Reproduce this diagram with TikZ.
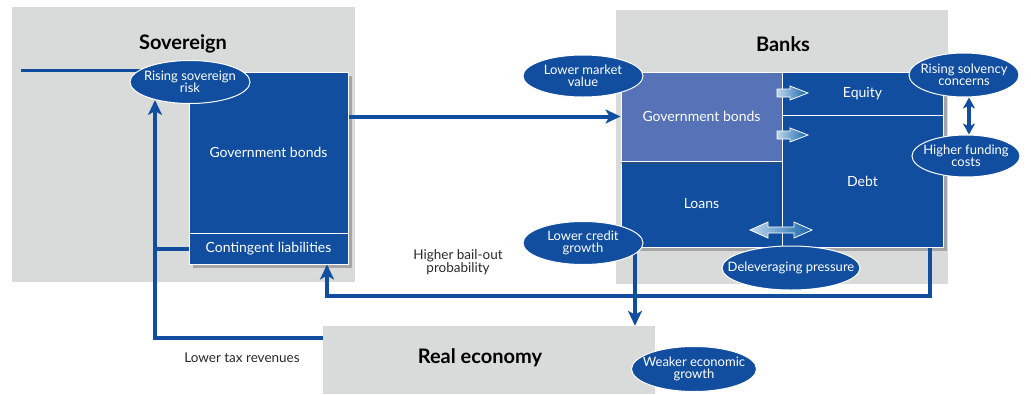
\documentclass[tikz,border=0pt]{standalone}
\usepackage{fontspec}
\setmainfont{Lato}
\usetikzlibrary{shapes.geometric,arrows.meta,shadows,calc}
\definecolor{bl}{RGB}{17,78,160}
\definecolor{lbl}{RGB}{86,115,183}
\definecolor{gr}{RGB}{217,218,218}
\definecolor{txt}{RGB}{40,40,40}
\definecolor{hA}{RGB}{190,215,235}
\definecolor{hB}{RGB}{20,100,170}
\begin{document}
\begin{tikzpicture}[x=1pt,y=-1pt,
  graybox/.style={fill=gr, draw=none, inner sep=0pt},
  title/.style={font=\fontsize{20}{22}\selectfont\bfseries, text=black},
  cell/.style={fill=bl, draw=white, line width=1pt, inner sep=0pt, text=white, font=\fontsize{14}{16}\selectfont},
  oval/.style={ellipse, fill=bl, draw=white, line width=1pt, inner ysep=0pt, inner xsep=-9pt, text=white, align=center, font=\fontsize{13}{14}\selectfont},
  lbl/.style={text=txt, align=center, font=\fontsize{13.5}{15}\selectfont},
  conn/.style={draw=bl, line width=4pt},
  arr/.style={-{Stealth[length=15pt,width=14pt,inset=4pt]}},
  darr/.style={{Stealth[length=11pt,width=12pt,inset=3pt]}-{Stealth[length=11pt,width=12pt,inset=3pt]}},
  hollow/.style={draw=white, line width=0.8pt, left color=hA, right color=hB},
  shad/.style={drop shadow={shadow xshift=4pt, shadow yshift=-4pt, opacity=0.45, fill=black!60}}
]
\useasboundingbox (0,0) rectangle (1031,394);
% gray boxes
\node[graybox, minimum width=343pt, minimum height=275pt] (sov) at (183.5,144.5) {};
\node[graybox, minimum width=332pt, minimum height=274pt] (bank) at (782,147) {};
\node[graybox, minimum width=332pt, minimum height=68pt] (re) at (489,360) {};
\node[title] (sovt) at (183,44) {Sovereign};
\node[title] (bankt) at (783,44) {Banks};
\node[title] (ret) at (480,358) {Real economy};
% sovereign balance sheet
\fill[bl, shad] (189,72) rectangle (348,264);
\node[cell, minimum width=159pt, minimum height=161pt] (sgb) at (268.5,152.5) {Government bonds};
\node[cell, minimum width=159pt, minimum height=31pt] (cl) at (268.5,248.5) {Contingent liabilities};
% bank balance sheet
\fill[bl, shad] (621,72) rectangle (943,247);
\node[cell, minimum width=161pt, minimum height=86pt] (loans) at (701.5,204) {Loans};
\node[cell, minimum width=161pt, minimum height=43pt] (equity) at (862.5,93.5) {Equity};
\node[cell, minimum width=161pt, minimum height=132pt] (debt) at (862.5,181) {Debt};
\node[cell, fill=lbl, minimum width=161pt, minimum height=89pt, drop shadow={shadow xshift=0pt, shadow yshift=-3pt, opacity=0.35, fill=black!70}] (bgb) at (701.5,116.5) {Government bonds};
% coordinates
\coordinate (c1) at (155,338);
\coordinate (c2) at (155,100);
\coordinate (c3) at (930,296);
\coordinate (c4) at (327,296);
\coordinate (c5) at (21,70);
% connectors
\draw[conn, line width=3pt] (c5) -- (190,70);
\draw[conn, arr] (sgb.east |- bgb.west) -- (bgb.west);
\draw[conn, arr] (re.west |- c1) -- (c1) -- (c2);
\draw[conn] (cl.west) -- (cl.west -| c1);
\draw[conn, arr] (debt.south -| c3) -- (c3) -- (c4) -- (cl.south -| c4);
\draw[conn, arr] (loans.south -| 635,0) -- (re.north -| 635,0);
% ovals
\node[oval, minimum width=120pt, minimum height=43pt] (ers) at (190,82) {Rising sovereign\\[-2pt]risk};
\node[oval, minimum width=120pt, minimum height=42pt] (lmv) at (583,76) {Lower market\\[-2pt]value};
\node[oval, minimum width=120pt, minimum height=43pt] (lcg) at (583,243) {Lower credit\\[-2pt]growth};
\node[oval, minimum width=110pt, minimum height=44pt] (rsc) at (964,75) {Rising solvency\\[-2pt]concerns};
\node[oval, minimum width=108pt, minimum height=42pt] (hfc) at (966,156) {Higher funding\\[-2pt]costs};
\node[oval, inner xsep=-16pt, minimum width=138pt, minimum height=44pt] (dp) at (791,268) {Deleveraging pressure};
\node[oval, minimum width=125pt, minimum height=45pt] (weg) at (694,369) {Weaker economic\\[-2pt]growth};
\draw[conn, line width=3.5pt, darr] (rsc.south -| 969,0) -- (hfc.north -| 969,0);
% labels
\node[lbl] (hbp) at (458,262) {Higher bail-out\\[-2pt]probability};
\node[lbl] (ltr) at (242,358) {Lower tax revenues};
% hollow arrows
\path[hollow] (777,89) -- (790,89) -- (790,86) -- (808,93) -- (790,100) -- (790,97) -- (777,97) -- cycle;
\path[hollow] (777,131) -- (790,131) -- (790,128) -- (808,135) -- (790,142) -- (790,139) -- (777,139) -- cycle;
\path[hollow] (750,230) -- (768,222) -- (768,227) -- (794,227) -- (794,222) -- (812,230) -- (794,238) -- (794,233) -- (768,233) -- (768,238) -- cycle;
\end{tikzpicture}
\end{document}
